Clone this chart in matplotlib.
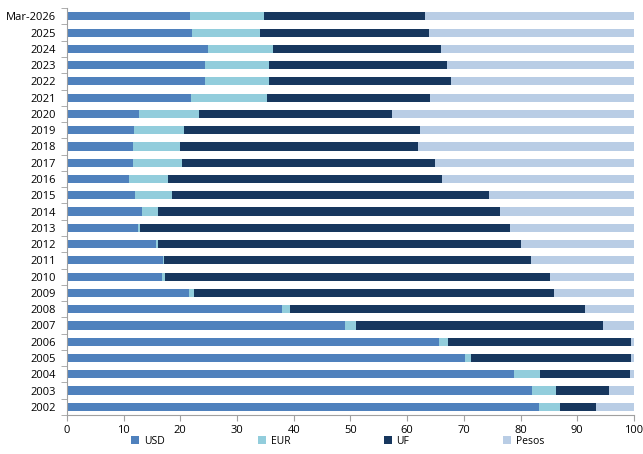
import matplotlib
matplotlib.use("Agg")
import matplotlib.pyplot as plt
import numpy as np

# categories top to bottom as in the picture
years = ["Mar-2026", "2025", "2024", "2023", "2022", "2021", "2020", "2019",
         "2018", "2017", "2016", "2015", "2014", "2013", "2012", "2011",
         "2010", "2009", "2008", "2007", "2006", "2005", "2004", "2003", "2002"]

# shares in percent
usd = [21.7, 22.0, 24.8, 24.3, 24.4, 21.8, 12.7, 11.9, 11.7, 11.6, 10.9, 12.1,
       13.2, 12.6, 15.8, 16.9, 16.8, 21.5, 37.9, 49.1, 65.7, 70.2, 78.8, 82.0, 83.2]
eur = [13.0, 12.1, 11.5, 11.4, 11.2, 13.5, 10.6, 8.8, 8.2, 8.7, 6.9, 6.4,
       2.8, 0.3, 0.2, 0.3, 0.5, 0.9, 1.5, 1.8, 1.5, 1.0, 4.6, 4.3, 3.8]
uf = [28.4, 29.8, 29.6, 31.4, 32.2, 28.8, 34.0, 41.5, 42.0, 44.6, 48.4, 55.9,
      60.3, 65.3, 64.0, 64.6, 67.9, 63.5, 52.0, 43.6, 32.3, 28.3, 15.9, 9.3, 6.3]
pesos = [100 - a - b - c for a, b, c in zip(usd, eur, uf)]

series = [("USD", usd, "#4F81BD"), ("EUR", eur, "#92CDDC"),
          ("UF", uf, "#17375E"), ("Pesos", pesos, "#B9CDE5")]

plt.rcParams["font.family"] = ["Open Sans", "DejaVu Sans"]

fig = plt.figure(figsize=(6.43, 4.54), dpi=100)
ax = fig.add_axes([0.104, 0.086, 0.882, 0.896])

y = np.arange(len(years))
left = np.zeros(len(years))
for name, vals, col in series:
    ax.barh(y, vals, left=left, height=0.5, color=col, label=name)
    left += np.array(vals)

ax.set_xlim(0, 100)
ax.set_ylim(len(years) - 0.5, -0.5)
ax.set_xticks(range(0, 101, 10))
ax.set_yticks(y)
ax.set_yticklabels(years)
ax.set_yticks(np.arange(-0.5, len(years), 1), minor=True)
ax.tick_params(axis="y", which="major", length=0, labelsize=8, pad=8)
ax.tick_params(axis="y", which="minor", length=4, color="#A0A0A0")
ax.tick_params(axis="x", length=4, color="#A0A0A0", labelsize=8)

for s in ["top", "right"]:
    ax.spines[s].set_visible(False)
for s in ["left", "bottom"]:
    ax.spines[s].set_color("#A0A0A0")

fig.legend(loc="lower center", bbox_to_anchor=(0.525, -0.005), ncol=4,
           frameon=False, fontsize=7.5, handlelength=0.8, handleheight=0.8,
           columnspacing=9, handletextpad=0.4)

fig.savefig("out.png", dpi=100)
